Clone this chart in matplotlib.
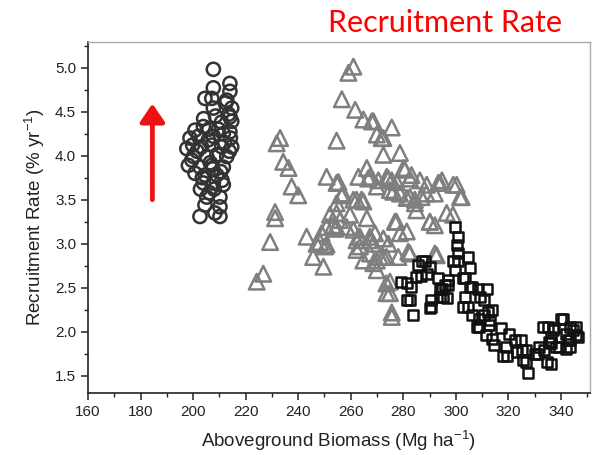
import matplotlib.pyplot as plt
from matplotlib.ticker import MultipleLocator

# biomass (Mg/ha) and recruitment rate (%/yr) for the three site groups
circle_x = [207.7, 207.7, 214.0, 204.5, 207.1, 214.0, 207.7, 212.8, 214.7, 214.0,
            214.7, 203.9, 200.7, 198.8, 202.0, 207.7, 211.5, 214.0, 197.6, 203.2,
            207.1, 210.9, 214.7, 200.1, 205.2, 209.0, 212.8, 198.2, 202.6, 207.1,
            211.5, 200.7, 204.5, 209.0, 203.9, 207.7, 211.5, 205.2, 210.2, 204.5,
            210.2, 208.3, 202.6, 210.2, 201.5, 205.8, 209.6, 199.5, 206.5, 210.5,
            203.5, 208.0, 212.0, 213.5, 212.5, 213.8, 211.0, 199.8, 204.0, 206.0,
            208.5, 210.8, 202.8, 206.2, 214.2, 207.5]
circle_y = [4.98, 4.77, 4.82, 4.65, 4.65, 4.73, 4.54, 4.63, 4.54, 4.44,
            4.39, 4.33, 4.29, 4.20, 4.22, 4.22, 4.25, 4.27, 4.08, 4.10,
            4.12, 4.10, 4.10, 3.99, 3.99, 4.01, 3.99, 3.89, 3.87, 3.89,
            3.87, 3.80, 3.78, 3.78, 3.69, 3.69, 3.67, 3.53, 3.53, 3.44,
            3.42, 3.35, 3.31, 3.31, 4.05, 4.18, 4.30, 3.95, 3.92, 3.82,
            3.75, 3.62, 4.15, 4.47, 4.60, 4.05, 3.72, 4.12, 4.42, 4.30,
            4.45, 4.38, 3.62, 3.58, 4.20, 3.85]

triangle_x = [261.0, 259.1, 256.6, 261.7, 264.8, 268.6, 275.6, 269.9, 272.4, 233.1,
              231.8, 254.6, 272.4, 278.7, 234.3, 236.3, 266.1, 280.1, 250.8, 262.9,
              267.3, 273.7, 283.1, 254.6, 237.5, 240.0, 269.9, 276.2, 286.3, 293.9,
              299.0, 301.6, 288.8, 282.5, 257.1, 262.2, 264.8, 254.6, 231.2, 231.2,
              254.6, 259.7, 266.1, 277.4, 285.0, 284.4, 290.1, 296.5, 253.3, 243.2,
              248.9, 229.3, 247.0, 250.8, 262.2, 267.3, 272.4, 278.7, 245.7, 249.6,
              262.2, 267.3, 272.4, 282.5, 292.7, 268.6, 269.9, 226.7, 224.2, 274.9,
              274.9, 275.6, 275.6, 268.0, 271.8, 255.3, 266.6, 270.5, 274.3, 277.5,
              280.6, 282.5, 288.9, 293.3, 294.7, 300.3, 302.2, 292.0, 298.9, 290.1,
              292.0, 274.9, 278.7, 281.3, 284.4, 286.9, 275.6, 256.5, 261.0, 264.1,
              252.1, 255.9, 276.8, 281.3, 250.8, 254.0, 261.0, 263.0, 269.2, 268.6,
              248.3, 250.2, 263.5, 274.3, 273.6, 278.1, 281.9, 269.9, 292.0, 264.8,
              254.6, 258.4, 263.5, 267.3, 271.1, 273.6, 273.6]
triangle_y = [5.01, 4.94, 4.64, 4.52, 4.41, 4.39, 4.32, 4.24, 4.20, 4.20,
              4.14, 4.17, 4.01, 4.03, 3.93, 3.86, 3.86, 3.86, 3.76, 3.76,
              3.76, 3.76, 3.78, 3.69, 3.65, 3.55, 3.65, 3.59, 3.72, 3.69,
              3.67, 3.53, 3.57, 3.53, 3.57, 3.50, 3.48, 3.46, 3.36, 3.29,
              3.35, 3.33, 3.29, 3.25, 3.38, 3.46, 3.25, 3.35, 3.21, 3.08,
              3.12, 3.02, 3.00, 2.99, 3.04, 3.08, 3.06, 3.12, 2.85, 2.74,
              2.93, 2.89, 2.85, 2.89, 2.87, 2.78, 2.70, 2.66, 2.57, 2.57,
              2.44, 2.17, 2.22, 4.39, 4.20, 3.70, 3.74, 3.72, 3.74, 3.70,
              3.84, 3.74, 3.67, 3.69, 3.72, 3.67, 3.53, 3.57, 3.33, 3.25,
              3.21, 3.61, 3.57, 3.52, 3.50, 3.53, 3.72, 3.55, 3.50, 3.50,
              3.33, 3.27, 3.25, 3.14, 3.19, 3.17, 3.16, 3.08, 3.12, 3.00,
              3.02, 2.97, 2.97, 3.00, 2.85, 2.85, 2.91, 2.81, 2.89, 2.81,
              3.19, 3.19, 3.08, 3.04, 2.85, 2.55, 2.44]

square_x = [299.7, 301.0, 300.4, 301.0, 304.8, 301.0, 299.7, 305.5, 303.6, 297.1,
            294.6, 306.1, 311.9, 290.7, 296.5, 290.7, 285.6, 288.2, 286.9, 279.2,
            283.0, 282.4, 283.7, 304.8, 306.1, 310.6, 313.8, 310.6, 308.7, 312.6,
            311.3, 317.0, 314.5, 319.6, 320.2, 324.7, 326.6, 326.6, 327.3, 331.8,
            331.1, 336.2, 335.0, 337.5, 340.7, 343.3, 345.8, 346.5, 342.0, 342.6,
            336.2, 336.2, 339.4, 343.3, 333.7, 313.8, 318.9, 323.4, 308.7, 302.9,
            303.6, 309.3, 295.9, 299.1, 290.1, 285.0, 294.0, 293.3, 287.0, 288.9,
            281.3, 281.3, 293.9, 302.8, 305.4, 307.9, 290.1, 297.1, 295.2, 312.3,
            308.5, 313.0, 318.0, 322.5, 325.0, 325.6, 330.1, 334.5, 333.2, 337.1,
            340.2, 344.7, 343.4, 345.9, 338.3, 335.3, 342.1]
square_y = [3.19, 3.08, 2.99, 2.89, 2.85, 2.80, 2.70, 2.72, 2.61, 2.59,
            2.49, 2.51, 2.49, 2.36, 2.38, 2.28, 2.76, 2.81, 2.64, 2.57,
            2.51, 2.36, 2.19, 2.28, 2.19, 2.36, 2.25, 2.19, 2.06, 2.08,
            1.96, 2.04, 1.85, 1.73, 1.98, 1.91, 1.79, 1.66, 1.53, 1.83,
            1.75, 1.64, 2.06, 2.04, 2.15, 2.06, 2.06, 1.94, 1.98, 1.91,
            1.94, 1.87, 1.83, 1.83, 1.79, 1.92, 1.83, 1.77, 2.15, 2.28,
            2.40, 2.40, 2.53, 2.80, 2.74, 2.62, 2.40, 2.61, 2.81, 2.66,
            2.55, 2.36, 2.49, 2.61, 2.51, 2.06, 2.27, 2.53, 2.40, 2.23,
            2.49, 2.13, 1.73, 1.91, 1.79, 1.68, 1.75, 1.66, 2.06, 2.02,
            2.15, 2.02, 1.91, 1.96, 1.83, 1.89, 1.81]

x_ticks = [160, 180, 200, 220, 240, 260, 280, 300, 320, 340]
y_ticks = [1.5, 2.0, 2.5, 3.0, 3.5, 4.0, 4.5, 5.0]

plt.rcParams['font.family'] = ['Liberation Sans', 'DejaVu Sans']
plt.rcParams['mathtext.fontset'] = 'custom'
plt.rcParams['mathtext.rm'] = 'Liberation Sans'

fig = plt.figure(figsize=(5.96, 4.55), dpi=100)
ax = fig.add_axes([0.1477, 0.1363, 0.842, 0.7714])

ax.scatter(circle_x, circle_y, s=90, marker='o', facecolors='none',
           edgecolors='#333333', linewidths=1.8, zorder=3)
ax.scatter(triangle_x, triangle_y, s=125, marker='^', facecolors='none',
           edgecolors='#7f7f7f', linewidths=1.8, zorder=3)
ax.scatter(square_x, square_y, s=52, marker='s', facecolors='none',
           edgecolors='#111111', linewidths=1.8, zorder=4)

ax.set_xlim(160, 351)
ax.set_ylim(1.307, 5.29)
ax.set_xticks(x_ticks)
ax.set_yticks(y_ticks)
ax.set_yticklabels([f'{v:.1f}' for v in y_ticks])
ax.xaxis.set_minor_locator(MultipleLocator(10))
ax.yaxis.set_minor_locator(MultipleLocator(0.25))
ax.tick_params(which='major', direction='out', length=5, width=1.1,
               labelsize=11, colors='#222222')
ax.tick_params(which='minor', direction='out', length=3, width=1.0, colors='#222222')

for side in ['left', 'bottom']:
    ax.spines[side].set_color('#222222')
    ax.spines[side].set_linewidth(1.2)
for side in ['top', 'right']:
    ax.spines[side].set_color('#aaaaaa')
    ax.spines[side].set_linewidth(1.0)

ax.set_xlabel('Aboveground Biomass (Mg ha$^{\\mathrm{-1}}$)', fontsize=13.5,
              color='#222222', labelpad=7)
ax.set_ylabel('Recruitment Rate (% yr$^{\\mathrm{-1}}$)', fontsize=13.5,
              color='#222222', labelpad=6)

# red arrow pointing up
ax.annotate('', xy=(184.5, 4.59), xytext=(184.5, 3.50),
            arrowprops=dict(arrowstyle='-|>,head_length=1.1,head_width=0.75',
                            color='#ee1111', lw=3.4, shrinkA=0, shrinkB=0))

fig.text(0.747, 0.950, 'Recruitment Rate', color='#ff0000', fontsize=22,
         family=['Lato', 'DejaVu Sans'], ha='center', va='center')

fig.savefig('out.png', dpi=100)
